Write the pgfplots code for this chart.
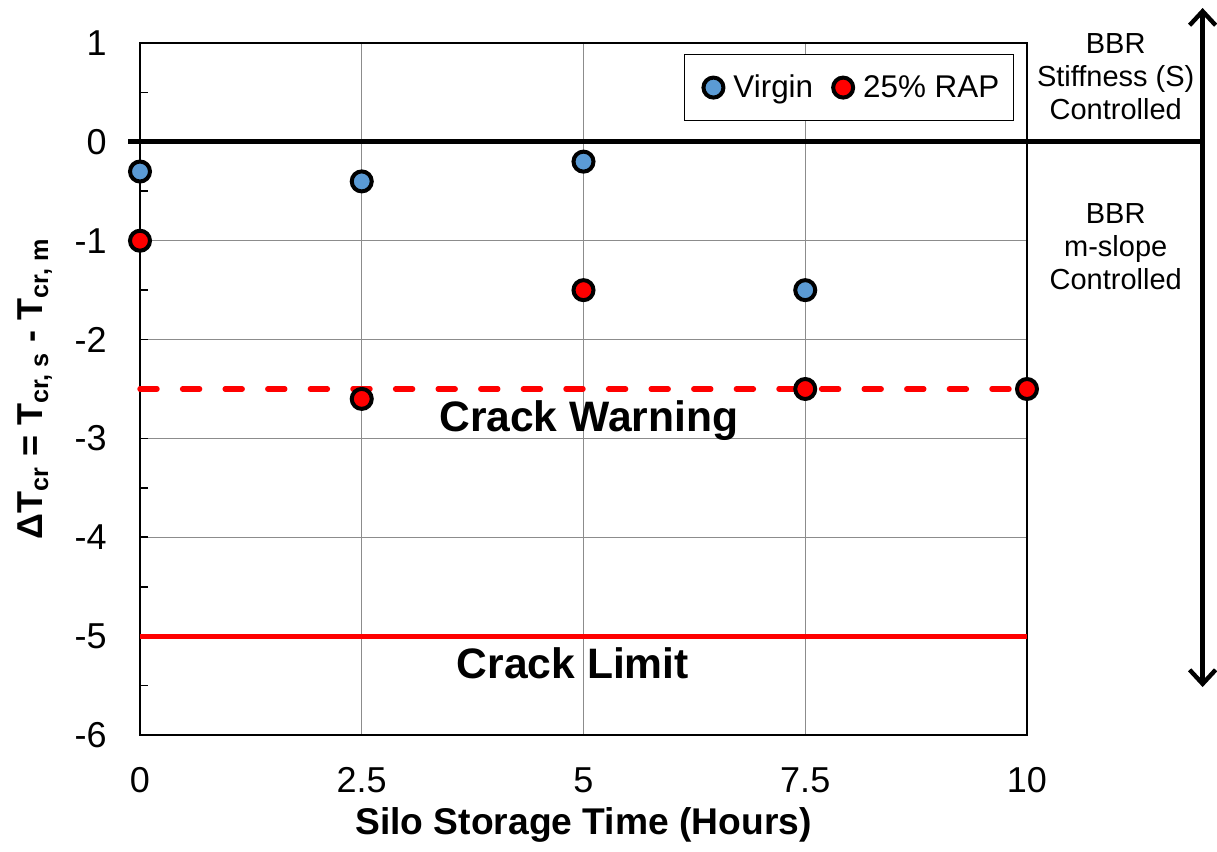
\documentclass[border=0pt]{standalone}
\usepackage{pgfplots}
\pgfplotsset{compat=1.18}
\usepackage{fontspec}
\setmainfont{Liberation Sans}
\usetikzlibrary{arrows.meta}
\definecolor{vblue}{RGB}{91,155,213}
\definecolor{rapred}{RGB}{255,0,0}
\begin{document}
\begin{tikzpicture}
\useasboundingbox (-70pt,-58.5pt) rectangle (538.5pt,367.5pt);
\begin{axis}[
  at={(0,0)}, anchor=south west,
  scale only axis, width=443.5pt, height=346pt,
  xmin=0, xmax=10, ymin=-6, ymax=1,
  clip=false,
  xtick={0,2.5,5,7.5,10},
  xticklabels={0,2.5,5,7.5,10},
  ytick={-6,-5,-4,-3,-2,-1,0,1},
  yticklabels={-6,-5,-4,-3,-2,-1,0,1},
  minor ytick={-5.5,-4.5,-3.5,-2.5,-1.5,-0.5,0.5},
  grid=major,
  major grid style={draw=gray!90, line width=0.65pt},
  axis line style={black, line width=0.9pt},
  xtick style={draw=none},
  ytick style={black, line width=0.9pt},
  minor y tick style={black, line width=0.9pt},
  ytick pos=left,
  tick align=inside,
  major tick length=4pt, minor tick length=4pt,
  tick label style={font=\fontsize{18}{21}\selectfont, inner sep=0pt},
  xticklabel style={anchor=center, yshift=-22.5pt},
  yticklabel style={anchor=east, xshift=-16.5pt},
  xlabel={\textbf{Silo Storage Time (Hours)}},
  xlabel style={font=\fontsize{18.6}{22}\selectfont, at={(axis description cs:0.5,0)}, anchor=center, yshift=-45pt},
  ylabel={\textbf{ΔT\textsubscript{cr} = T\textsubscript{cr, s} - T\textsubscript{cr, m}}},
  ylabel style={font=\fontsize{18}{21}\selectfont, at={(axis description cs:0,0.5)}, anchor=center, yshift=52.5pt},
  legend columns=2,
  legend style={at={(axis description cs:1,1)}, anchor=north east, xshift=-6.5pt, yshift=-5.5pt,
    draw=black, line width=0.7pt, font=\fontsize{15.7}{19}\selectfont,
    inner xsep=5pt, inner ysep=7.5pt, nodes={inner xsep=2pt, inner ysep=2.5pt},
    /tikz/every even column/.append style={column sep=3.5pt}},
  legend image code/.code={\path[draw=none, fill=none] (-9.5pt,0pt) -- (8pt,0pt); \draw[#1] plot coordinates {(0pt,0pt)};},
]
% zero line
\addplot[black, line width=2.4pt, forget plot] coordinates {(-0.135,0) (11.98,0)};
% crack warning / limit
\addplot[rapred, line width=2.7pt, line cap=round, dash pattern=on 8.5pt off 12.8pt, forget plot] coordinates {(0,-2.5) (10,-2.5)};
\addplot[rapred, line width=2.5pt, forget plot] coordinates {(0,-5) (10,-5)};
% data
\addplot[only marks, mark=*, mark size=5pt, mark options={fill=vblue, draw=black, line width=2pt}]
  coordinates {(0,-0.3) (2.5,-0.4) (5,-0.2) (7.5,-1.5)};
\addlegendentry{Virgin}
\addplot[only marks, mark=*, mark size=5pt, mark options={fill=rapred, draw=black, line width=2pt}]
  coordinates {(0,-1) (2.5,-2.6) (5,-1.5) (7.5,-2.5) (10,-2.5)};
\addlegendentry{25\% RAP}
% arrow
\draw[black, line width=2.2pt, {Straight Barb[length=7pt 0, width=13pt 0]}-{Straight Barb[length=7pt 0, width=13pt 0]}]
  (axis cs:11.98,1.354) -- (axis cs:11.98,-5.515);
% texts
\node[font=\fontsize{21.3}{25}\selectfont\bfseries, anchor=base] at (axis cs:5.06,-2.93) {Crack Warning};
\node[font=\fontsize{21.3}{25}\selectfont\bfseries, anchor=base] at (axis cs:4.88,-5.43) {Crack Limit};
\node[font=\fontsize{14.5}{16.5}\selectfont, align=center] at (axis cs:11.0,0.657) {BBR\\Stiffness (S)\\Controlled};
\node[font=\fontsize{14.5}{16.5}\selectfont, align=center] at (axis cs:11.0,-1.056) {BBR\\m-slope\\Controlled};
\end{axis}
\end{tikzpicture}
\end{document}
